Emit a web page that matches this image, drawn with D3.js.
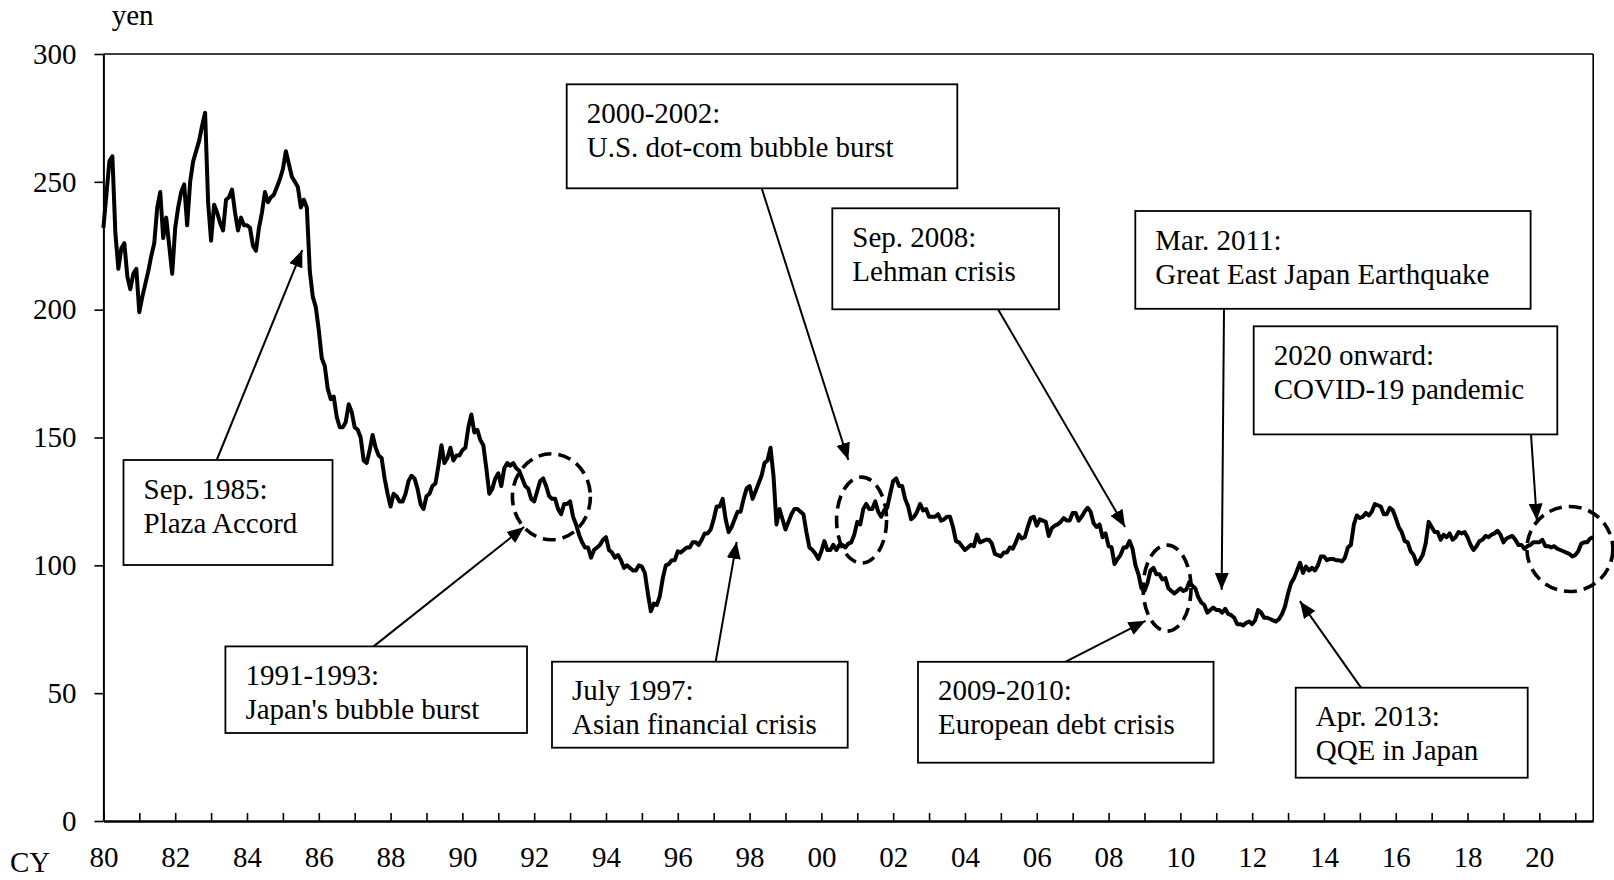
<!DOCTYPE html>
<html><head><meta charset="utf-8">
<script src="https://cdn.jsdelivr.net/npm/d3@7"></script>
<style>
html,body{margin:0;padding:0;background:#fff;}
svg{display:block;font-family:'Liberation Serif','Times New Roman',serif;}
</style></head><body>
<svg id="chart" width="1614" height="880"></svg>
<script>
// ---------- DATA ----------
const startYear = 1980;
// Monthly USD/JPY (yen per dollar)
const rate1980s = [
 232,245,258,260,230,216,224,226,213,208,214,216,
 199,205,210,215,221,226,240,246,228,236,225,214,
 232,240,246,249,233,250,258,262,266,272,277,242,
 227,241,238,234,231,243,244,247,238,231,236,233,
 233,232,225,223,232,238,246,242,244,245,248,251,
 255,262,257,252,250,248,240,243,240,215,205,201,
 192,181,178,169,165,166,158,154,154,156,163,160,
 154,153,150,141,140,145,151,146,143,142,134,128,
 123,128,127,125,125,128,133,135,134,130,124,122,
 127,128,131,132,139,147,140,142,146,141,143,143
];
const rate1990s = [
 145,146,154,159,152,153,149,147,138,128,130,134,
 136,131,138,140,139,140,138,137,134,131,130,126,
 125,129,133,134,131,127,126,126,122,120,124,124,
 125,119,116,112,109,107,107,103,106,107,108,110,
 111,106,105,103,104,102,99,100,99,98,98,100,
 99.5,97,89,82,85,84.5,88,95,100,100.5,102,102,
 105.5,105,106,107,107,109,109,108,110,112.5,112.5,114,
 118,123,123,126,118,113,115,118,121,121,126,130,
 131,126,129,132,135,140,141,146,135,116,122,118,
 114,117,120,122,122,121,120,113,107,106,104.5,102.5
];
const rate2000s = [
 105.5,109.5,106,106,108,106,108,108,107,108.5,109,112,
 117,116,122,124,122,122,125,121,119,121.5,122.5,128,
 133,134,131,131,126,123,118,119,121,124,121.5,122,
 119,119,119,120,117.5,118,119,119,115,109.5,109,107.5,
 106,107,108,107.5,112,109,109.5,110,110,108.5,104.5,104,
 103.5,105,105,107,106.5,109,112,110.5,111,115,118.5,119,
 115.5,118,117.5,117,111.5,114.5,115.5,116,117,118.5,117.5,117.5,
 120.5,120.5,117.5,119,121,122.5,121,116.5,115,116,111,112.5,
 107.5,107,100.5,102.5,104,107,107,109.5,106.5,100,96.5,91,
 90,93,98,99,96.5,96.5,94.5,95,91,90,89,90
];
const rate2010s = [
 91,90,90.5,93.5,92,91,87.5,85.5,84.5,81.5,82.5,83.5,
 82.5,82.5,81.5,83,81,80.5,79.5,77,77,76.5,77.5,78,
 77,78.5,82.5,81.5,79.5,79.5,79,78.5,78,79,81,84,
 89,93,95,98,101,97,99.5,98,99,98,100,103.5,
 103.5,102,102.5,102.5,102,102,101.5,103,107,108,116,119.5,
 118.5,119,120.5,119.5,121,124,123.5,123,120,120,122.5,121.5,
 118.5,115,113,109.5,109,105.5,104,100.5,102,104,108.5,117,
 115,113,113,110,112,111,112.5,110,111,113,112.5,113,
 111,108,106,107.5,109.5,110,111.5,111,112,112.5,113.5,112,
 109,110.5,111,111.5,110,108,108,106.5,107.5,108,109,109
];
const rate2020s = [
 109,110,107.5,107.5,107,107.5,106.5,106,105.5,105,104.5,103.5,
 104,105.5,108.5,109,109,110.5,111
];
const yTicks = [0,50,100,150,200,250,300];
const xTickYears = d3.range(1980, 2022);
const xTickLabels = ['80','82','84','86','88','90','92','94','96','98','00','02','04','06','08','10','12','14','16','18','20'];

const annotationText = [
 ["Sep. 1985:", "Plaza Accord"],
 ["1991-1993:", "Japan's bubble burst"],
 ["July 1997:", "Asian financial crisis"],
 ["2000-2002:", "U.S. dot-com bubble burst"],
 ["Sep. 2008:", "Lehman crisis"],
 ["Mar. 2011:", "Great East Japan Earthquake"],
 ["2020 onward:", "COVID-19 pandemic"],
 ["2009-2010:", "European debt crisis"],
 ["Apr. 2013:", "QQE in Japan"]
];
// arrow targets in data coordinates [year, yen]
const arrowTargets = [[1985.54,223.3],[1991.72,115.0],[1997.64,109.2],[2000.75,141.2],[2008.46,115.0],[2011.15,90.4],[2019.93,117.5],[2009.03,78.3],[2013.33,86.0]];
// highlighted periods (dashed ellipses) in data coordinates [year, yen]
const highlightCenters = [[1992.48,126.8],[2001.12,117.7],[2009.63,91.1],[2020.85,106.4]];

// ---------- LAYOUT ----------
const L = {left:103.4, right:1593.2, top:54, bottom:821};
const boxLayout = [
 {x0:123.5,y0:460,x1:332.5,y1:565, tx:216.7,ty:460},
 {x0:225.4,y0:646.4,x1:527,y1:733, tx:373.6,ty:646.4},
 {x0:552,y0:661.7,x1:847.7,y1:747.7, tx:715.7,ty:661.7},
 {x0:566.7,y0:84.3,x1:957.3,y1:188.3, tx:761.7,ty:188.3},
 {x0:832.3,y0:208.3,x1:1059,y1:309.3, tx:998,ty:309.3},
 {x0:1135.3,y0:211,x1:1530.6,y1:308.8, tx:1224,ty:308.8},
 {x0:1253.7,y0:326.3,x1:1557.3,y1:434.4, tx:1531,ty:434.4},
 {x0:918,y0:661.8,x1:1213.5,y1:762.7, tx:1065.3,ty:661.8},
 {x0:1295.7,y0:687.7,x1:1527.7,y1:777.7, tx:1361,ty:687.7}
];
const ellipseRadii = [[39,43],[25,43],[24,43],[43,42.5]];
const FONT = 29;

// ---------- BUILD ----------
const series = [].concat(rate1980s, rate1990s, rate2000s, rate2010s, rate2020s)
  .map((v,i) => ({t: startYear + i/12, v}));

const svg = d3.select('#chart');
const x = d3.scaleLinear().domain([1980, 2021.5]).range([L.left, L.right]);
const y = d3.scaleLinear().domain([0, 300]).range([L.bottom, L.top]);

// frame top & right
svg.append('line').attr('x1',L.left).attr('x2',L.right).attr('y1',L.top).attr('y2',L.top)
  .attr('stroke','#000').attr('stroke-width',1.6);
svg.append('line').attr('x1',L.right).attr('x2',L.right).attr('y1',L.top).attr('y2',L.bottom)
  .attr('stroke','#000').attr('stroke-width',1.6);

// y axis
const yAxis = svg.append('g').attr('transform',`translate(${L.left},0)`)
  .call(d3.axisLeft(y).tickValues(yTicks).tickSize(9).tickSizeOuter(0).tickPadding(18).tickFormat(d3.format('d')));
yAxis.select('.domain').attr('stroke','#000').attr('stroke-width',2);
yAxis.selectAll('.tick line').attr('stroke','#000').attr('stroke-width',1.6);
yAxis.selectAll('.tick text').attr('font-size',FONT).attr('font-family',"'Liberation Serif','Times New Roman',serif").attr('fill','#000');

// x axis
const evenLabel = d => (d % 2 === 0) ? xTickLabels[(d-1980)/2] : '';
const xAxis = svg.append('g').attr('transform',`translate(0,${L.bottom})`)
  .call(d3.axisBottom(x).tickValues(xTickYears).tickSizeInner(-8).tickSizeOuter(0).tickPadding(25).tickFormat(evenLabel));
xAxis.select('.domain').attr('stroke','#000').attr('stroke-width',2.6);
xAxis.selectAll('.tick line').attr('stroke','#000').attr('stroke-width',1.6);
xAxis.selectAll('.tick text').attr('font-size',FONT).attr('font-family',"'Liberation Serif','Times New Roman',serif").attr('fill','#000');

// axis titles
svg.append('text').attr('x',111.7).attr('y',25).attr('font-size',FONT).text('yen');
svg.append('text').attr('x',10).attr('y',872).attr('font-size',FONT).text('CY');

// data line
const line = d3.line().x(d => x(d.t)).y(d => y(d.v));
svg.append('path').datum(series).attr('d',line).attr('fill','none')
  .attr('stroke','#000').attr('stroke-width',4).attr('stroke-linejoin','round');

// arrow marker
svg.append('defs').append('marker').attr('id','ah')
  .attr('markerUnits','userSpaceOnUse').attr('markerWidth',18).attr('markerHeight',14)
  .attr('refX',17).attr('refY',7).attr('orient','auto')
  .append('path').attr('d','M0,0 L17,7 L0,14 Z').attr('fill','#000');

// dashed ellipses
svg.append('g').selectAll('ellipse').data(highlightCenters).join('ellipse')
  .attr('cx',d => x(d[0])).attr('cy',d => y(d[1]))
  .attr('rx',(d,i) => ellipseRadii[i][0]).attr('ry',(d,i) => ellipseRadii[i][1])
  .attr('fill','none').attr('stroke','#000').attr('stroke-width',3.6).attr('stroke-dasharray','13,7');

// annotation boxes
const ann = svg.append('g').selectAll('g').data(annotationText).join('g');
ann.append('line')
  .attr('x1',(d,i) => boxLayout[i].tx).attr('y1',(d,i) => boxLayout[i].ty)
  .attr('x2',(d,i) => x(arrowTargets[i][0])).attr('y2',(d,i) => y(arrowTargets[i][1]))
  .attr('stroke','#000').attr('stroke-width',2).attr('marker-end','url(#ah)');
ann.append('rect')
  .attr('x',(d,i) => boxLayout[i].x0).attr('y',(d,i) => boxLayout[i].y0)
  .attr('width',(d,i) => boxLayout[i].x1 - boxLayout[i].x0).attr('height',(d,i) => boxLayout[i].y1 - boxLayout[i].y0)
  .attr('fill','#fff').attr('stroke','#000').attr('stroke-width',1.8);
ann.each(function(d,i){
  const g = d3.select(this);
  d.forEach((ln,k) => {
    g.append('text').attr('x',boxLayout[i].x0 + 20).attr('y',boxLayout[i].y0 + 38.5 + k*34)
      .attr('font-size',FONT).attr('fill','#000').text(ln);
  });
});
</script>
</body></html>
